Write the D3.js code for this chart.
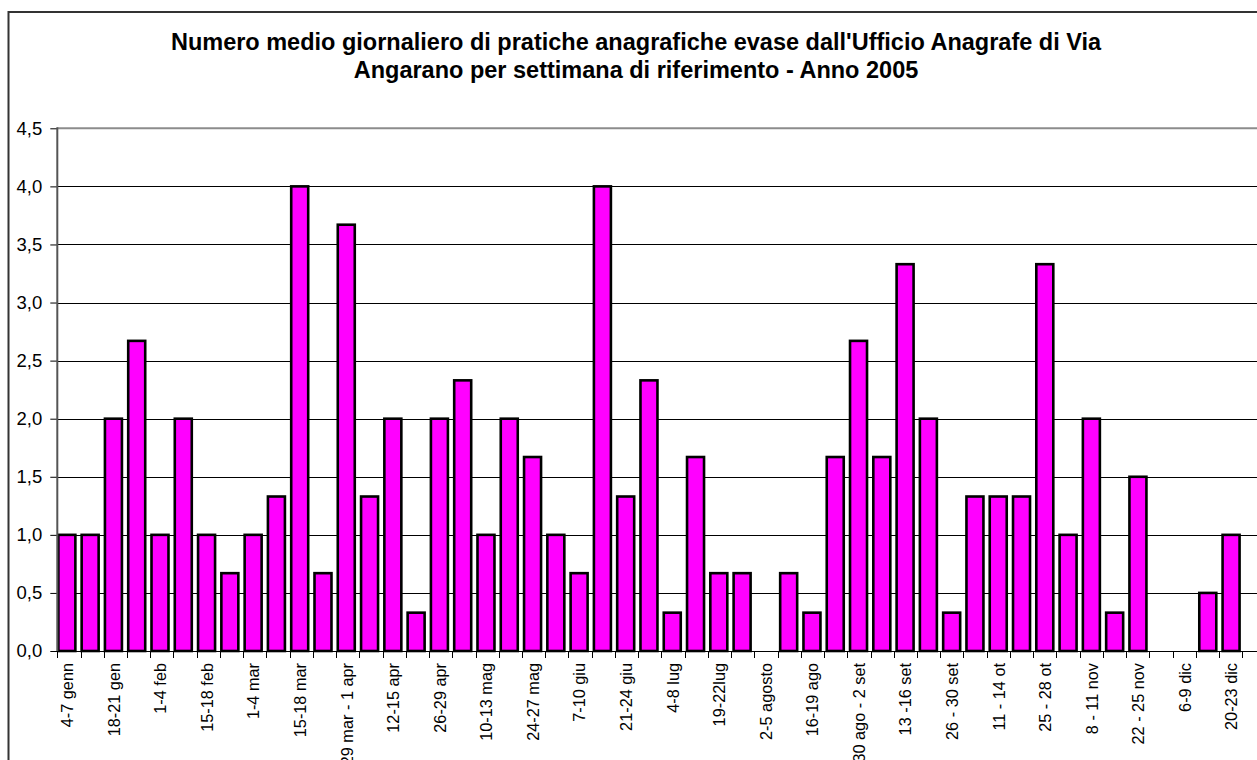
<!DOCTYPE html>
<html>
<head>
<meta charset="utf-8">
<script src="https://cdn.jsdelivr.net/npm/d3@7"></script>
<style>
  html, body { margin: 0; padding: 0; background: #fff; }
  svg { display: block; }
</style>
</head>
<body>
<svg id="chart" width="1257" height="760"></svg>
<script>
const titleLines = [
  "Numero medio giornaliero di pratiche anagrafiche evase dall'Ufficio Anagrafe di Via",
  "Angarano per settimana di riferimento - Anno 2005"
];
const weeks = [
  "4-7 genn", "11-14 gen", "18-21 gen", "25-28 gen", "1-4 feb", "8-11 feb", "15-18 feb", "22-25 feb",
  "1-4 mar", "8-11 mar", "15-18 mar", "22-25 mar", "29 mar - 1 apr", "5-8 apr", "12-15 apr", "19-22 apr",
  "26-29 apr", "3-6 mag", "10-13 mag", "17-20 mag", "24-27 mag", "31 mag - 3 giu", "7-10 giu", "14-17 giu",
  "21-24 giu", "28 giu - 1 lug", "4-8 lug", "12-15 lug", "19-22lug", "26-29 lug", "2-5 agosto", "9-12 ago",
  "16-19 ago", "23-26 ago", "30 ago - 2 set", "6-9 set", "13 -16 set", "20-23 set", "26 - 30 set", "4-7 ot",
  "11 - 14 ot", "18-21 ot", "25 - 28 ot", "2-4 nov", "8 - 11 nov", "15-18 nov", "22 - 25 nov", "29 nov - 2 dic",
  "6-9 dic", "13-16 dic", "20-23 dic", "27-30 dic"
];
const values = [
  1.0, 1.0, 2.0, 2.67, 1.0, 2.0, 1.0, 0.67,
  1.0, 1.33, 4.0, 0.67, 3.67, 1.33, 2.0, 0.33,
  2.0, 2.33, 1.0, 2.0, 1.67, 1.0, 0.67, 4.0,
  1.33, 2.33, 0.33, 1.67, 0.67, 0.67, 0.0, 0.67,
  0.33, 1.67, 2.67, 1.67, 3.33, 2.0, 0.33, 1.33,
  1.33, 1.33, 3.33, 1.0, 2.0, 0.33, 1.5, 0.0,
  0.0, 0.5, 1.0, 0.0
];
const yTicks = [0, 0.5, 1.0, 1.5, 2.0, 2.5, 3.0, 3.5, 4.0, 4.5];

const svg = d3.select("#chart");
const W = 1257, H = 760;
svg.append("rect").attr("width", W).attr("height", H).attr("fill", "#fff");

// chart frame
svg.append("rect")
  .attr("x", 8.5).attr("y", 12).attr("width", W + 20).attr("height", H + 20)
  .attr("fill", "none").attr("stroke", "#333").attr("stroke-width", 2);

const plot = { left: 57.3, top: 128.3, bottom: 651 };
const step = 23.235;

const x = d3.scaleBand()
  .domain(d3.range(weeks.length))
  .range([plot.left, plot.left + step * weeks.length])
  .paddingInner(0.27)
  .paddingOuter(0.08);

const y = d3.scaleLinear().domain([0, 4.5]).range([plot.bottom, plot.top]);

// gridlines
svg.append("g").selectAll("line")
  .data(yTicks.filter(t => t > 0 && t < 4.5))
  .join("line")
  .attr("x1", plot.left).attr("x2", W)
  .attr("y1", d => Math.round(y(d)) + 0.5).attr("y2", d => Math.round(y(d)) + 0.5)
  .attr("stroke", "#000").attr("stroke-width", 1);

// plot area top border
svg.append("line")
  .attr("x1", plot.left).attr("x2", W)
  .attr("y1", y(4.5)).attr("y2", y(4.5))
  .attr("stroke", "#8c8c8c").attr("stroke-width", 2);

// bars
svg.append("g").selectAll("rect")
  .data(values)
  .join("rect")
  .attr("x", (d, i) => x(i) - 0.8)
  .attr("y", d => y(d))
  .attr("width", x.bandwidth())
  .attr("height", d => y(0) - y(d))
  .attr("fill", "#FF00FF")
  .attr("stroke", "#000")
  .attr("stroke-width", 2.6);

// y axis
const yAxis = d3.axisLeft(y)
  .tickValues(yTicks)
  .tickSize(7)
  .tickPadding(8)
  .tickFormat(d => d3.format(".1f")(d).replace(".", ","));
const gy = svg.append("g").attr("transform", `translate(${plot.left},0)`).call(yAxis);
gy.select(".domain").remove();
gy.selectAll(".tick line").attr("stroke", "#000");
gy.selectAll(".tick text")
  .attr("font-family", "Liberation Sans, Arial, sans-serif")
  .attr("font-size", 18.5).attr("fill", "#000");
svg.append("line")
  .attr("x1", plot.left).attr("x2", plot.left)
  .attr("y1", y(4.5) - 1).attr("y2", y(0))
  .attr("stroke", "#555").attr("stroke-width", 2);

// x axis
svg.append("line")
  .attr("x1", plot.left).attr("x2", W)
  .attr("y1", y(0) + 0.5).attr("y2", y(0) + 0.5)
  .attr("stroke", "#000").attr("stroke-width", 1);
const tickPos = d3.range(weeks.length + 1).map(i => plot.left + i * step);
svg.append("g").selectAll("line")
  .data(tickPos)
  .join("line")
  .attr("x1", d => Math.round(d) + 0.5).attr("x2", d => Math.round(d) + 0.5)
  .attr("y1", y(0)).attr("y2", y(0) + 7)
  .attr("stroke", "#000").attr("stroke-width", 1);

svg.append("g").selectAll("text")
  .data(weeks.map((w, i) => ({ w, i })).filter(d => d.i % 2 === 0))
  .join("text")
  .attr("transform", d => `translate(${x(d.i) + x.bandwidth() / 2 + 5.5},${y(0) + 12}) rotate(-90)`)
  .attr("text-anchor", "end")
  .attr("font-family", "Liberation Sans, Arial, sans-serif")
  .attr("font-size", 16.3)
  .attr("fill", "#000")
  .text(d => d.w);

// title
svg.append("g").selectAll("text")
  .data(titleLines)
  .join("text")
  .attr("x", 636)
  .attr("y", (d, i) => 50 + i * 28)
  .attr("text-anchor", "middle")
  .attr("font-family", "Liberation Sans, Arial, sans-serif")
  .attr("font-weight", "bold")
  .attr("font-size", 23.5)
  .attr("fill", "#000")
  .text(d => d);
</script>
</body>
</html>
